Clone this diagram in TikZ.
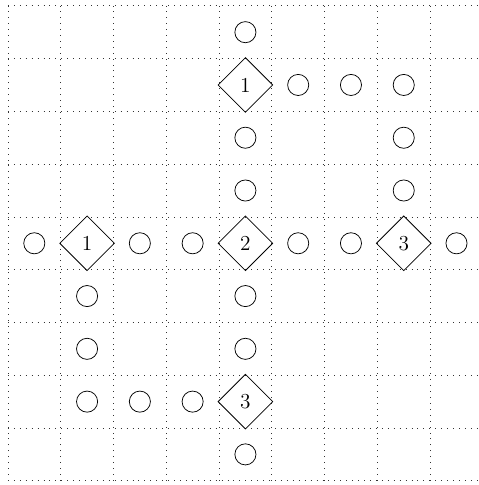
\documentclass[tikz,border=0pt]{standalone}
\usepackage{amsmath,amssymb}
\usepackage{xcolor}
\usetikzlibrary{shapes.geometric}

\begin{document}
\begin{tikzpicture}[
  font=\fontsize{11.5}{13}\selectfont,
  gridline/.style={line width=0.4pt, dash pattern=on 0.4pt off 2.8pt, black!80},
  cell/.style={circle, draw, thin, minimum size=4mm, inner sep=0pt},
  clue/.style={diamond, draw, thin, minimum size=10.4mm, inner sep=0pt},
]
\useasboundingbox (-0.15,-0.08) rectangle (8.92,9.11);
\draw[gridline] (0,0) grid (9,9);

% row 1 (top)
\node[cell] (c15) at (4.5,8.5) {};
% row 2
\node[clue] (d25) at (4.5,7.5) {1};
\node[cell] (c26) at (5.5,7.5) {};
\node[cell] (c27) at (6.5,7.5) {};
\node[cell] (c28) at (7.5,7.5) {};
% rows 3 and 4
\node[cell] (c35) at (4.5,6.5) {};
\node[cell] (c38) at (7.5,6.5) {};
\node[cell] (c45) at (4.5,5.5) {};
\node[cell] (c48) at (7.5,5.5) {};
% row 5
\node[cell] (c51) at (0.5,4.5) {};
\node[clue] (d52) at (1.5,4.5) {1};
\node[cell] (c53) at (2.5,4.5) {};
\node[cell] (c54) at (3.5,4.5) {};
\node[clue] (d55) at (4.5,4.5) {2};
\node[cell] (c56) at (5.5,4.5) {};
\node[cell] (c57) at (6.5,4.5) {};
\node[clue] (d58) at (7.5,4.5) {3};
\node[cell] (c59) at (8.5,4.5) {};
% rows 6 and 7
\node[cell] (c62) at (1.5,3.5) {};
\node[cell] (c65) at (4.5,3.5) {};
\node[cell] (c72) at (1.5,2.5) {};
\node[cell] (c75) at (4.5,2.5) {};
% row 8
\node[cell] (c82) at (1.5,1.5) {};
\node[cell] (c83) at (2.5,1.5) {};
\node[cell] (c84) at (3.5,1.5) {};
\node[clue] (d85) at (4.5,1.5) {3};
% row 9 (bottom)
\node[cell] (c95) at (4.5,0.5) {};
\end{tikzpicture}
\end{document}
